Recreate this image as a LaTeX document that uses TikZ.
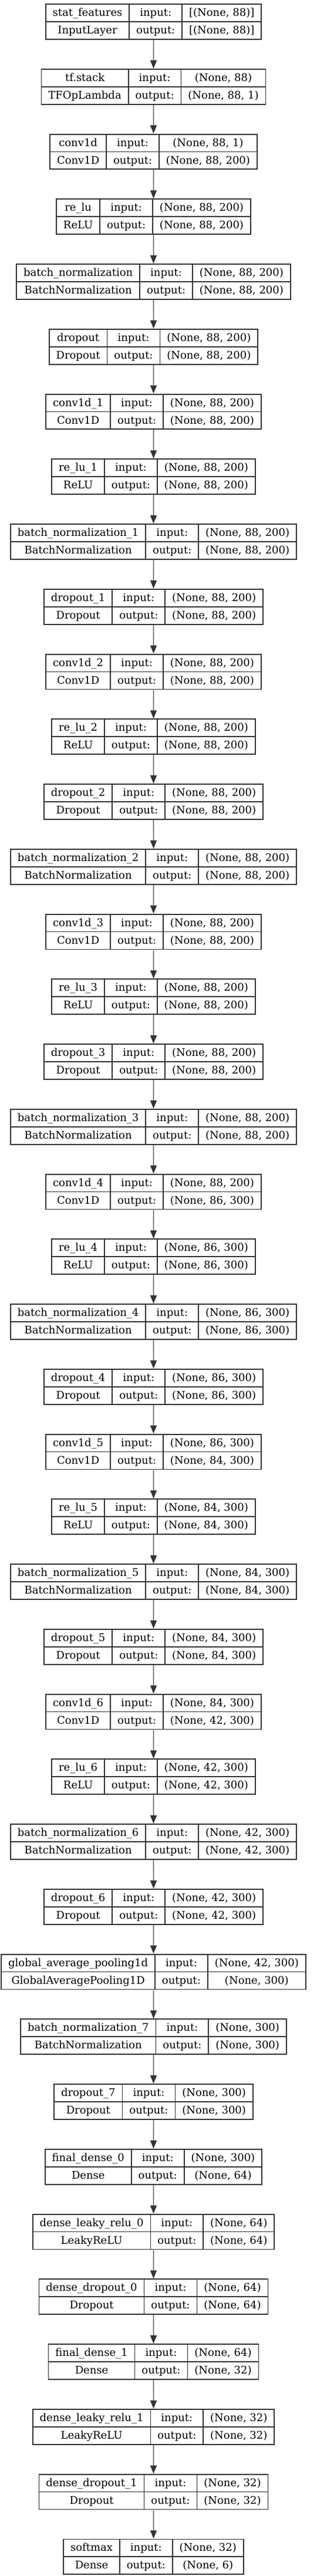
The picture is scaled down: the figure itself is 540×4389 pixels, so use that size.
\documentclass[tikz,border=0pt]{standalone}
\usepackage{fontspec}
\setmainfont{DejaVu Serif}
\usepackage{colortbl}
\usetikzlibrary{arrows.meta}
\setlength{\arrayrulewidth}{1.8pt}
\setlength{\tabcolsep}{11pt}
\renewcommand{\arraystretch}{1.277}
\arrayrulecolor{black!80}
\def\layertab#1#2#3#4{\begin{tabular}{|c|c|c|}\hline #1 & input: & #3\\\hline #2 & output: & #4\\\hline\end{tabular}}

\begin{document}
\begin{tikzpicture}[x=1pt, y=1pt,
	layer/.style={anchor=north, inner sep=0pt, font=\fontsize{18}{22}\selectfont},
	flow/.style={line width=1.8pt, draw=black!80, fill=black!80, -{Triangle[length=14pt, width=11pt]}}]
		%%%%% START %%%%%
		
		\path[fill=white] (0, 0) rectangle (540, -4389);
		
		\node[layer] (input) at (261.5, -6) {\layertab{stat\_features}{InputLayer}{[(None, 88)]}{[(None, 88)]}};
		\node[layer] (stack) at (261.5, -116.75) {\layertab{tf.stack}{TFOpLambda}{(None, 88)}{(None, 88, 1)}};
		
		\node[layer] (conv) at (261.5, -227.5) {\layertab{conv1d}{Conv1D}{(None, 88, 1)}{(None, 88, 200)}};
		\node[layer] (relu) at (261.5, -338.25) {\layertab{re\_lu}{ReLU}{(None, 88, 200)}{(None, 88, 200)}};
		\node[layer] (bn) at (261.5, -449) {\layertab{batch\_normalization}{BatchNormalization}{(None, 88, 200)}{(None, 88, 200)}};
		\node[layer] (drop) at (261.5, -559.75) {\layertab{dropout}{Dropout}{(None, 88, 200)}{(None, 88, 200)}};
		
		\node[layer] (conv1) at (261.5, -670.5) {\layertab{conv1d\_1}{Conv1D}{(None, 88, 200)}{(None, 88, 200)}};
		\node[layer] (relu1) at (261.5, -781.25) {\layertab{re\_lu\_1}{ReLU}{(None, 88, 200)}{(None, 88, 200)}};
		\node[layer] (bn1) at (261.5, -892) {\layertab{batch\_normalization\_1}{BatchNormalization}{(None, 88, 200)}{(None, 88, 200)}};
		\node[layer] (drop1) at (261.5, -1002.75) {\layertab{dropout\_1}{Dropout}{(None, 88, 200)}{(None, 88, 200)}};
		
		\node[layer] (conv2) at (261.5, -1113.5) {\layertab{conv1d\_2}{Conv1D}{(None, 88, 200)}{(None, 88, 200)}};
		\node[layer] (relu2) at (261.5, -1224.25) {\layertab{re\_lu\_2}{ReLU}{(None, 88, 200)}{(None, 88, 200)}};
		\node[layer] (drop2) at (261.5, -1335) {\layertab{dropout\_2}{Dropout}{(None, 88, 200)}{(None, 88, 200)}};
		\node[layer] (bn2) at (261.5, -1445.75) {\layertab{batch\_normalization\_2}{BatchNormalization}{(None, 88, 200)}{(None, 88, 200)}};
		
		\node[layer] (conv3) at (261.5, -1556.5) {\layertab{conv1d\_3}{Conv1D}{(None, 88, 200)}{(None, 88, 200)}};
		\node[layer] (relu3) at (261.5, -1667.25) {\layertab{re\_lu\_3}{ReLU}{(None, 88, 200)}{(None, 88, 200)}};
		\node[layer] (drop3) at (261.5, -1778) {\layertab{dropout\_3}{Dropout}{(None, 88, 200)}{(None, 88, 200)}};
		\node[layer] (bn3) at (261.5, -1888.75) {\layertab{batch\_normalization\_3}{BatchNormalization}{(None, 88, 200)}{(None, 88, 200)}};
		
		\node[layer] (conv4) at (261.5, -1999.5) {\layertab{conv1d\_4}{Conv1D}{(None, 88, 200)}{(None, 86, 300)}};
		\node[layer] (relu4) at (261.5, -2110.25) {\layertab{re\_lu\_4}{ReLU}{(None, 86, 300)}{(None, 86, 300)}};
		\node[layer] (bn4) at (261.5, -2221) {\layertab{batch\_normalization\_4}{BatchNormalization}{(None, 86, 300)}{(None, 86, 300)}};
		\node[layer] (drop4) at (261.5, -2331.75) {\layertab{dropout\_4}{Dropout}{(None, 86, 300)}{(None, 86, 300)}};
		
		\node[layer] (conv5) at (261.5, -2442.5) {\layertab{conv1d\_5}{Conv1D}{(None, 86, 300)}{(None, 84, 300)}};
		\node[layer] (relu5) at (261.5, -2553.25) {\layertab{re\_lu\_5}{ReLU}{(None, 84, 300)}{(None, 84, 300)}};
		\node[layer] (bn5) at (261.5, -2664) {\layertab{batch\_normalization\_5}{BatchNormalization}{(None, 84, 300)}{(None, 84, 300)}};
		\node[layer] (drop5) at (261.5, -2774.75) {\layertab{dropout\_5}{Dropout}{(None, 84, 300)}{(None, 84, 300)}};
		
		\node[layer] (conv6) at (261.5, -2885.5) {\layertab{conv1d\_6}{Conv1D}{(None, 84, 300)}{(None, 42, 300)}};
		\node[layer] (relu6) at (261.5, -2996.25) {\layertab{re\_lu\_6}{ReLU}{(None, 42, 300)}{(None, 42, 300)}};
		\node[layer] (bn6) at (261.5, -3107) {\layertab{batch\_normalization\_6}{BatchNormalization}{(None, 42, 300)}{(None, 42, 300)}};
		\node[layer] (drop6) at (261.5, -3217.75) {\layertab{dropout\_6}{Dropout}{(None, 42, 300)}{(None, 42, 300)}};
		
		\node[layer] (pool) at (261.5, -3328.5) {\layertab{global\_average\_pooling1d}{GlobalAveragePooling1D}{(None, 42, 300)}{(None, 300)}};
		\node[layer] (bn7) at (261.5, -3439.25) {\layertab{batch\_normalization\_7}{BatchNormalization}{(None, 300)}{(None, 300)}};
		\node[layer] (drop7) at (261.5, -3550) {\layertab{dropout\_7}{Dropout}{(None, 300)}{(None, 300)}};
		
		\node[layer] (dense0) at (261.5, -3660.75) {\layertab{final\_dense\_0}{Dense}{(None, 300)}{(None, 64)}};
		\node[layer] (leaky0) at (261.5, -3771.5) {\layertab{dense\_leaky\_relu\_0}{LeakyReLU}{(None, 64)}{(None, 64)}};
		\node[layer] (ddrop0) at (261.5, -3882.25) {\layertab{dense\_dropout\_0}{Dropout}{(None, 64)}{(None, 64)}};
		
		\node[layer] (dense1) at (261.5, -3993) {\layertab{final\_dense\_1}{Dense}{(None, 64)}{(None, 32)}};
		\node[layer] (leaky1) at (261.5, -4103.75) {\layertab{dense\_leaky\_relu\_1}{LeakyReLU}{(None, 32)}{(None, 32)}};
		\node[layer] (ddrop1) at (261.5, -4214.5) {\layertab{dense\_dropout\_1}{Dropout}{(None, 32)}{(None, 32)}};
		
		\node[layer] (softmax) at (261.5, -4325.25) {\layertab{softmax}{Dense}{(None, 32)}{(None, 6)}};
		
		\draw[flow] (input) -- (stack);
		\draw[flow] (stack) -- (conv);
		\draw[flow] (conv) -- (relu);
		\draw[flow] (relu) -- (bn);
		\draw[flow] (bn) -- (drop);
		\draw[flow] (drop) -- (conv1);
		\draw[flow] (conv1) -- (relu1);
		\draw[flow] (relu1) -- (bn1);
		\draw[flow] (bn1) -- (drop1);
		\draw[flow] (drop1) -- (conv2);
		\draw[flow] (conv2) -- (relu2);
		\draw[flow] (relu2) -- (drop2);
		\draw[flow] (drop2) -- (bn2);
		\draw[flow] (bn2) -- (conv3);
		\draw[flow] (conv3) -- (relu3);
		\draw[flow] (relu3) -- (drop3);
		\draw[flow] (drop3) -- (bn3);
		\draw[flow] (bn3) -- (conv4);
		\draw[flow] (conv4) -- (relu4);
		\draw[flow] (relu4) -- (bn4);
		\draw[flow] (bn4) -- (drop4);
		\draw[flow] (drop4) -- (conv5);
		\draw[flow] (conv5) -- (relu5);
		\draw[flow] (relu5) -- (bn5);
		\draw[flow] (bn5) -- (drop5);
		\draw[flow] (drop5) -- (conv6);
		\draw[flow] (conv6) -- (relu6);
		\draw[flow] (relu6) -- (bn6);
		\draw[flow] (bn6) -- (drop6);
		\draw[flow] (drop6) -- (pool);
		\draw[flow] (pool) -- (bn7);
		\draw[flow] (bn7) -- (drop7);
		\draw[flow] (drop7) -- (dense0);
		\draw[flow] (dense0) -- (leaky0);
		\draw[flow] (leaky0) -- (ddrop0);
		\draw[flow] (ddrop0) -- (dense1);
		\draw[flow] (dense1) -- (leaky1);
		\draw[flow] (leaky1) -- (ddrop1);
		\draw[flow] (ddrop1) -- (softmax);
		
		%%%%% END %%%%%
\end{tikzpicture}
\end{document}
